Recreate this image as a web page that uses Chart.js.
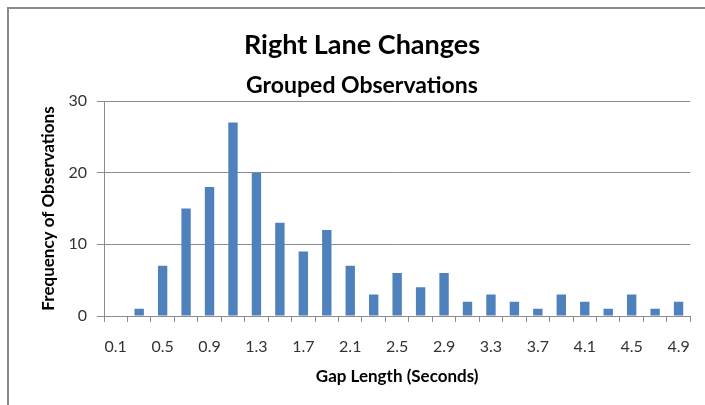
<!DOCTYPE html>
<html>
<head>
<meta charset="utf-8">
<script src="https://cdn.jsdelivr.net/npm/chart.js@4"></script>
<style>
  html, body { margin: 0; padding: 0; background: #fff; overflow: hidden; }
  #wrap { position: relative; width: 705px; height: 405px; }
  #frame { position: absolute; left: 7px; top: 7px; width: 800px; height: 500px; border: 2px solid #8a8a8a; }
  #gap_chart { position: absolute; left: 0; top: 0; }
</style>
</head>
<body>
<div id="wrap">
  <div id="frame"></div>
  <canvas id="gap_chart" width="705" height="405"></canvas>
</div>
<script>
  // gap length bins (seconds)
  const gap_labels = [
    '0.1', '0.3', '0.5', '0.7', '0.9', '1.1', '1.3', '1.5', '1.7', '1.9',
    '2.1', '2.3', '2.5', '2.7', '2.9', '3.1', '3.3', '3.5', '3.7', '3.9',
    '4.1', '4.3', '4.5', '4.7', '4.9'
  ];
  // frequency of observations per bin
  const gap_counts = [
    0, 1, 7, 15, 18, 27, 20, 13, 9, 12,
    7, 3, 6, 4, 6, 2, 3, 2, 1, 3,
    2, 1, 3, 1, 2
  ];
  const y_ticks = [0, 10, 20, 30];

  const fontFamily = 'Lato, "Open Sans", sans-serif';
  const gridColor = '#8c8c8c';

  const gap_data = {
    labels: gap_labels,
    datasets: [{
      label: 'Frequency',
      data: gap_counts,
      backgroundColor: '#4f81bd',
      barPercentage: 0.4,
      categoryPercentage: 1.0
    }]
  };

  // 설정
  const gap_config = {
    type: 'bar',
    data: gap_data,
    options: {
      responsive: false,
      animation: false,
      layout: { padding: { left: 32, right: 13, top: 0, bottom: 0 } },
      plugins: {
        legend: { display: false },
        tooltip: { enabled: false },
        title: {
          display: true,
          text: 'Right Lane Changes',
          color: '#000',
          font: { family: fontFamily, size: 27, weight: 'bold' },
          padding: { top: 29, bottom: 10 }
        },
        subtitle: {
          display: true,
          text: 'Grouped Observations',
          color: '#000',
          font: { family: fontFamily, size: 23, weight: 'bold' },
          padding: { top: 0, bottom: 2 }
        }
      },
      scales: {
        x: {
          grid: {
            offset: true,
            drawOnChartArea: false,
            drawTicks: true,
            tickLength: 6,
            color: gridColor
          },
          border: { display: true, color: gridColor },
          ticks: {
            autoSkip: false,
            maxRotation: 0,
            padding: 15,
            color: '#333',
            font: { family: fontFamily, size: 16 },
            callback: function (val, i) {
              return i % 2 === 0 ? gap_labels[i] : '';
            }
          },
          title: {
            display: true,
            text: 'Gap Length (Seconds)',
            color: '#000',
            font: { family: fontFamily, size: 17, weight: 'bold' },
            padding: { top: 0, bottom: 18 }
          },
          afterFit: function (scale) { scale.height = 89; }
        },
        y: {
          min: 0,
          max: 30,
          afterBuildTicks: function (scale) {
            scale.ticks = y_ticks.map(function (v) { return { value: v }; });
          },
          grid: { color: gridColor, tickLength: 7 },
          border: { display: true, color: gridColor },
          ticks: {
            padding: 10,
            color: '#333',
            font: { family: fontFamily, size: 16 }
          },
          title: {
            display: true,
            text: 'Frequency of Observations',
            color: '#000',
            font: { family: fontFamily, size: 17, weight: 'bold' },
            padding: { top: 6, bottom: 0 }
          },
          afterFit: function (scale) { scale.width = 72; }
        }
      }
    }
  };

  var gap_chart = new Chart(
    document.getElementById('gap_chart'),
    gap_config
  );
</script>
</body>
</html>
